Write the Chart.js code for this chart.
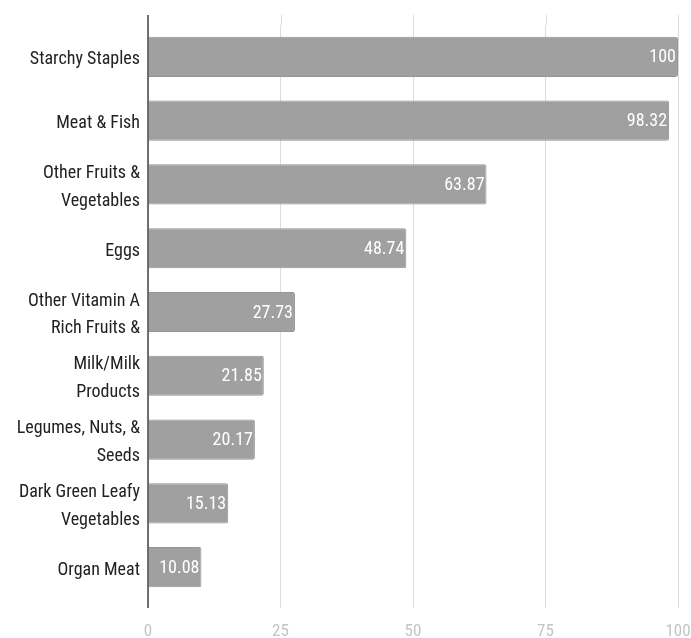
<!DOCTYPE html>
<html>
<head>
<meta charset="utf-8">
<script src="https://cdn.jsdelivr.net/npm/chart.js@4"></script>
<style>
  html, body { margin: 0; padding: 0; background: #fff; }
  #wrap { width: 691px; height: 638px; }
</style>
</head>
<body>
<div id="wrap"><canvas id="barChart" width="691" height="638"></canvas></div>
<script>
// categories (multi-line labels as in the picture)
const categories = [
    'Starchy Staples',
    'Meat & Fish',
    ['Other Fruits &', 'Vegetables'],
    'Eggs',
    ['Other Vitamin A', 'Rich Fruits &'],
    ['Milk/Milk', 'Products'],
    ['Legumes, Nuts, &', 'Seeds'],
    ['Dark Green Leafy', 'Vegetables'],
    'Organ Meat'
];
const values = [100, 98.32, 63.87, 48.74, 27.73, 21.85, 20.17, 15.13, 10.08];
const xTicks = [0, 25, 50, 75, 100];

const FONT = '"Liberation Sans Narrow", "Roboto Condensed", Roboto, sans-serif';

// white value labels at the end of each bar
const valueLabels = {
    id: 'valueLabels',
    afterDatasetsDraw(chart) {
        const ctx = chart.ctx;
        const meta = chart.getDatasetMeta(0);
        ctx.save();
        ctx.fillStyle = '#ffffff';
        ctx.font = '18px ' + FONT;
        ctx.textAlign = 'right';
        ctx.textBaseline = 'middle';
        meta.data.forEach((bar, i) => {
            ctx.fillText(String(values[i]), bar.x - 2, bar.y + 1);
        });
        ctx.restore();
    }
};

// grid & axis line run a bit past the plot area
const lineExtend = {
    id: 'lineExtend',
    beforeDatasetsDraw(chart) {
        const ctx = chart.ctx;
        const area = chart.chartArea;
        const x = chart.scales.x;
        ctx.save();
        ctx.strokeStyle = '#dcdcdc';
        ctx.lineWidth = 1;
        xTicks.forEach(t => {
            if (t === 0) return;
            const px = Math.round(x.getPixelForValue(t)) + 0.5;
            ctx.beginPath();
            ctx.moveTo(px, area.top - 10);
            ctx.lineTo(px, area.top);
            ctx.stroke();
        });
        ctx.restore();
    },
    afterDraw(chart) {
        const ctx = chart.ctx;
        const area = chart.chartArea;
        const px = chart.scales.x.getPixelForValue(0);
        ctx.save();
        ctx.strokeStyle = '#444';
        ctx.lineWidth = 1.5;
        ctx.beginPath();
        ctx.moveTo(px, area.top - 10);
        ctx.lineTo(px, area.bottom + 9);
        ctx.stroke();
        ctx.restore();
    }
};

new Chart(document.getElementById('barChart'), {
    type: 'bar',
    data: {
        labels: categories,
        datasets: [{
            data: values,
            backgroundColor: '#a0a0a0',
            borderColor: '#959595',
            borderWidth: 1,
            borderRadius: 2,
            borderSkipped: 'start',
            categoryPercentage: 1,
            barPercentage: 0.63
        }]
    },
    options: {
        indexAxis: 'y',
        responsive: false,
        animation: false,
        layout: { padding: { top: 25, right: 13, left: 0, bottom: 0 } },
        plugins: { legend: { display: false }, tooltip: { enabled: false } },
        scales: {
            x: {
                min: 0, max: 100,
                afterBuildTicks: s => { s.ticks = xTicks.map(v => ({ value: v })); },
                afterFit: s => { s.height = 39; s.paddingRight = 0; s.paddingLeft = 0; },
                grid: { color: '#dcdcdc', lineWidth: 1, drawTicks: true, tickLength: 9, tickColor: '#dcdcdc' },
                border: { display: false },
                ticks: { color: '#c4c4c4', font: { family: FONT, size: 17 }, padding: 14 }
            },
            y: {
                afterFit: s => { s.width = 148; },
                grid: { display: false, drawTicks: false },
                border: { display: false },
                ticks: { color: '#222', font: { family: FONT, size: 18, lineHeight: 1.55 }, padding: 8, labelOffset: 3 }
            }
        }
    },
    plugins: [valueLabels, lineExtend]
});
</script>
</body>
</html>
